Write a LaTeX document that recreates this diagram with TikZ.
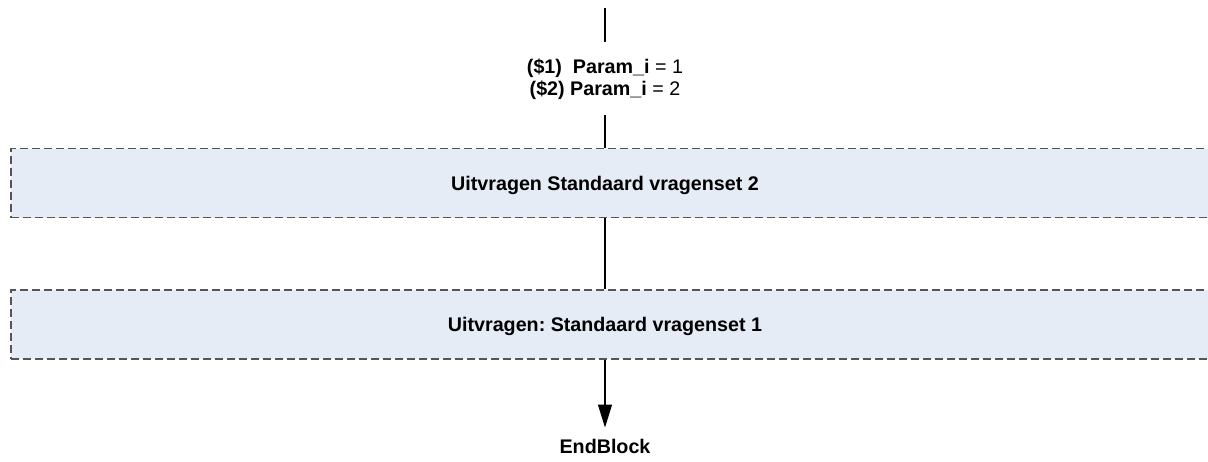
\documentclass[tikz,border=0pt]{standalone}
\usepackage{fontspec}
\setmainfont{Liberation Sans}
\usepackage{tikz}
\usetikzlibrary{arrows.meta}
\frenchspacing
\definecolor{setfill}{RGB}{229,236,246}
\definecolor{setedge}{RGB}{85,85,85}
\tikzset{
  fc/.style={font=\fontsize{19.7}{22}\selectfont, inner xsep=0pt},
  setbox/.style={draw=setedge, line width=1.1pt, dash pattern=on 8pt off 4pt, fill=setfill,
    rectangle, minimum width=1204pt, minimum height=69pt, inner sep=0pt},
  settxt/.style={fc, font=\fontsize{19.7}{22}\selectfont\bfseries, anchor=base, inner ysep=0pt},
  lbl/.style={fc, align=center, anchor=base, inner ysep=16pt},
  conn/.style={line width=1.2pt, draw=black},
  arr/.style={conn, -{Triangle[length=23pt, width=14pt]}},
}

\begin{document}
\begin{tikzpicture}[x=1pt, y=-1pt]
      \useasboundingbox (0,0) rectangle (1208,461);
      % incoming line and the parameter text
      \coordinate (top) at (605,8);
      \node[lbl] (params) at (605,95) {\textbf{(\$1)\ \ Param\_i} = 1\\\textbf{(\$2) Param\_i} = 2};
      % the two question sets
      \node[setbox] (box1) at (613,183) {};
      \node[settxt] (t1) at (605,190) {Uitvragen Standaard vragenset 2};
      \node[setbox] (box2) at (613,324.5) {};
      \node[settxt] (t2) at (605,331) {Uitvragen: Standaard vragenset 1};
      % the end
      \node[fc, font=\fontsize{19.7}{22}\selectfont\bfseries, anchor=base, inner ysep=11pt] (endblk) at (605,453) {EndBlock};

      \draw[conn] (top) -- (params);
      \draw[conn] (params) -- (box1.north -| params);
      \draw[conn] (box1.south -| t1) -- (box2.north -| t2);
      \draw[arr] (box2.south -| t2) -- (endblk);
    \end{tikzpicture}
\end{document}
